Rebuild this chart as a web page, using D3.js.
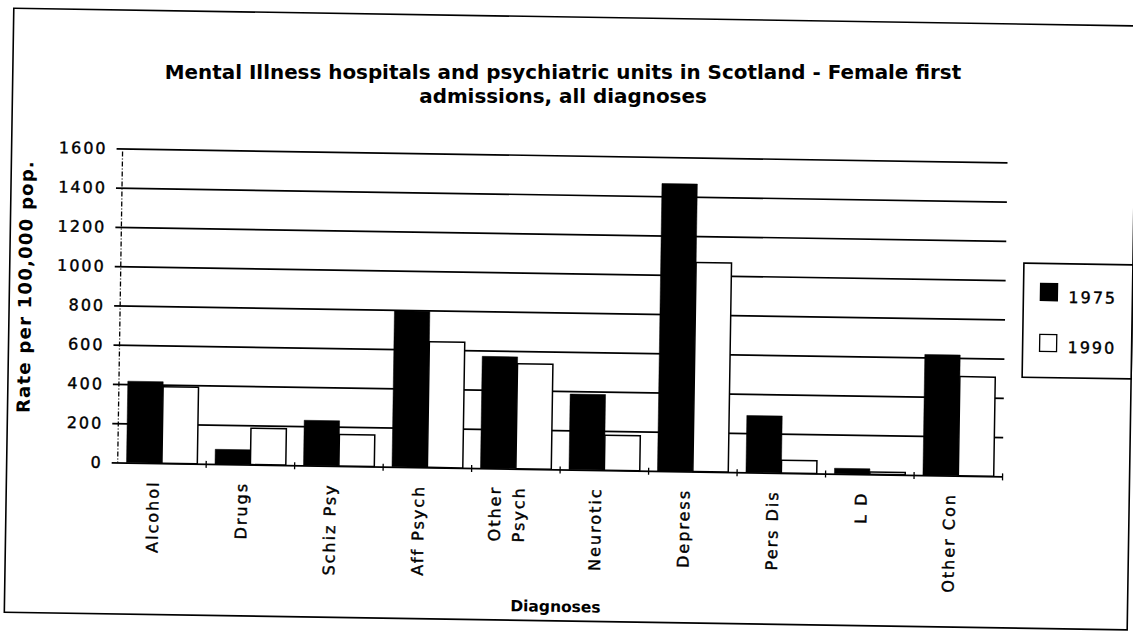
<!DOCTYPE html>
<html>
<head>
<meta charset="utf-8">
<script src="https://cdn.jsdelivr.net/npm/d3@7"></script>
<style>
  body { margin: 0; background: #fff; }
  svg { display: block; }
</style>
</head>
<body>
<svg id="vis"></svg>
<script>
const WIDTH = 1133;
const HEIGHT = 635;

// datos
const DIAGNOSTICOS = ["Alcohol", "Drugs", "Schiz Psy", "Aff Psych", "Other\nPsych",
  "Neurotic", "Depress", "Pers Dis", "L D", "Other Con"];
const ANIOS = ["1975", "1990"];
const VALORES_1975 = [415, 75, 230, 795, 570, 385, 1465, 290, 28, 615];
const VALORES_1990 = [390, 185, 160, 640, 535, 178, 1065, 65, 12, 505];
const TICKS_Y = [0, 200, 400, 600, 800, 1000, 1200, 1400, 1600];
const TITULO = ["Mental Illness hospitals and psychiatric units in Scotland - Female first",
  "admissions, all diagnoses"];

const COLORES = ["#000000", "#ffffff"];

const PLOT = { left: 120, right: 1005, top: 155.5, bottom: 469.5 };
const FUENTE = "'DejaVu Sans', Verdana, sans-serif";

const datos = DIAGNOSTICOS.map((d, i) => ({
  diagnostico: d,
  valores: [VALORES_1975[i], VALORES_1990[i]],
}));

const svg = d3.select("#vis").attr("width", WIDTH).attr("height", HEIGHT);
svg.append("rect").attr("width", WIDTH).attr("height", HEIGHT).attr("fill", "#fff");

// la hoja escaneada esta un poco girada
const hoja = svg.append("g").attr("transform", "rotate(0.9 566 318)");

// ajusta letter-spacing para que el texto ocupe un ancho dado
function ajustarAncho(sel, ancho) {
  const n = sel.text().length;
  const actual = sel.node().getComputedTextLength();
  sel.attr("letter-spacing", (ancho - actual) / n);
}

// marco exterior
hoja
  .append("rect")
  .attr("x", 9)
  .attr("y", 17)
  .attr("width", 1123)
  .attr("height", 604)
  .attr("fill", "none")
  .attr("stroke", "#000")
  .attr("stroke-width", 1.6);

// titulo (sin girar, para que las dos lineas no se pisen)
svg
  .selectAll("text.titulo")
  .data(TITULO)
  .join("text")
  .attr("class", "titulo")
  .attr("x", 563)
  .attr("y", (_, i) => 79 + i * 23.5)
  .attr("text-anchor", "middle")
  .style("font", `bold 19.9px ${FUENTE}`)
  .text((d) => d);

const escalaX = d3
  .scaleBand()
  .domain(DIAGNOSTICOS)
  .range([PLOT.left, PLOT.right])
  .paddingInner(0.2)
  .paddingOuter(0.1);

const escalaSub = d3.scaleBand().domain(ANIOS).range([0, escalaX.bandwidth()]);

const escalaY = d3
  .scaleLinear()
  .domain([0, 1600])
  .range([PLOT.bottom, PLOT.top]);

// lineas de grilla + etiquetas del eje Y
const ejeY = d3
  .axisLeft(escalaY)
  .tickValues(TICKS_Y)
  .tickFormat(d3.format("d"))
  .tickSize(-(PLOT.right - 114))
  .tickPadding(9);

hoja
  .append("g")
  .attr("transform", "translate(114,0)")
  .call(ejeY)
  .attr("font-family", FUENTE)
  .attr("font-size", 16)
  .call((g) => g.select(".domain").remove())
  .call((g) => g.selectAll(".tick line").attr("stroke", "#000").attr("stroke-width", 1.6))
  .call((g) =>
    g
      .selectAll(".tick text")
      .attr("fill", "#000")
      .attr("letter-spacing", 2)
      .attr("stroke", "#000")
      .attr("stroke-width", 0.4)
  );

// eje Y punteado
hoja
  .append("line")
  .attr("x1", PLOT.left)
  .attr("x2", PLOT.left)
  .attr("y1", escalaY(1585))
  .attr("y2", PLOT.bottom)
  .attr("stroke", "#000")
  .attr("stroke-width", 1.3)
  .attr("stroke-dasharray", "5 2 1 2");

// barras
const grupos = hoja
  .selectAll("g.grupo")
  .data(datos)
  .join("g")
  .attr("class", "grupo")
  .attr("transform", (d) => `translate(${escalaX(d.diagnostico)},0)`);

grupos
  .selectAll("rect")
  .data((d) => d.valores.map((v, i) => ({ anio: ANIOS[i], valor: v, i })))
  .join("rect")
  .attr("x", (d) => escalaSub(d.anio))
  .attr("y", (d) => escalaY(d.valor))
  .attr("width", escalaSub.bandwidth())
  .attr("height", (d) => escalaY(0) - escalaY(d.valor))
  .attr("fill", (d) => COLORES[d.i])
  .attr("stroke", "#000")
  .attr("stroke-width", (d) => (d.i === 0 ? 0.5 : 1.5));

// marcas entre categorias sobre el eje X
const hueco = (escalaX.step() - escalaX.bandwidth()) / 2;
const limites = DIAGNOSTICOS.slice(1).map((d) => escalaX(d) - hueco).concat([PLOT.right]);
hoja
  .selectAll("line.marca")
  .data(limites)
  .join("line")
  .attr("class", "marca")
  .attr("x1", (d) => d)
  .attr("x2", (d) => d)
  .attr("y1", PLOT.bottom - 3)
  .attr("y2", PLOT.bottom + 4)
  .attr("stroke", "#000")
  .attr("stroke-width", 1.3);

// etiquetas del eje X (verticales)
const etiquetas = hoja
  .selectAll("g.etiqueta")
  .data(DIAGNOSTICOS)
  .join("g")
  .attr("class", "etiqueta")
  .attr("transform", (d) => `translate(${escalaX(d) + escalaX.bandwidth() / 2 - 8.5},487)`);

etiquetas
  .selectAll("text")
  .data((d) => {
    const lineas = d.split("\n");
    return lineas.map((l, i) => ({ texto: l, dx: (i - (lineas.length - 1) / 2) * 24 }));
  })
  .join("text")
  .attr("transform", (d) => `translate(${d.dx},0) rotate(-90)`)
  .attr("dy", "0.35em")
  .attr("text-anchor", "end")
  .attr("letter-spacing", 2)
  .attr("stroke", "#000")
  .attr("stroke-width", 0.4)
  .style("font", `16px ${FUENTE}`)
  .text((d) => d.texto);

// titulo eje Y
const tituloY = hoja
  .append("text")
  .attr("transform", "translate(31,295) rotate(-90)")
  .attr("text-anchor", "middle")
  .style("font", `bold 18px ${FUENTE}`)
  .text("Rate per 100,000 pop.");
ajustarAncho(tituloY, 253);

// titulo eje X
hoja
  .append("text")
  .attr("x", 560)
  .attr("y", 612)
  .attr("text-anchor", "middle")
  .style("font", `bold 15.5px ${FUENTE}`)
  .text("Diagnoses");

// leyenda
const leyenda = hoja.append("g").attr("transform", "translate(1023,256)");
leyenda
  .append("rect")
  .attr("width", 109)
  .attr("height", 114)
  .attr("fill", "#fff")
  .attr("stroke", "#000")
  .attr("stroke-width", 1.6);

leyenda
  .selectAll("rect.muestra")
  .data(ANIOS)
  .join("rect")
  .attr("class", "muestra")
  .attr("x", 17)
  .attr("y", (_, i) => 20 + i * 51)
  .attr("width", 17)
  .attr("height", 17)
  .attr("fill", (_, i) => COLORES[i])
  .attr("stroke", "#000")
  .attr("stroke-width", 1.3);

leyenda
  .selectAll("text")
  .data(ANIOS)
  .join("text")
  .attr("x", 45)
  .attr("y", (_, i) => 39 + i * 50)
  .attr("letter-spacing", 2)
  .attr("stroke", "#000")
  .attr("stroke-width", 0.4)
  .style("font", `16px ${FUENTE}`)
  .text((d) => d);
</script>
</body>
</html>
